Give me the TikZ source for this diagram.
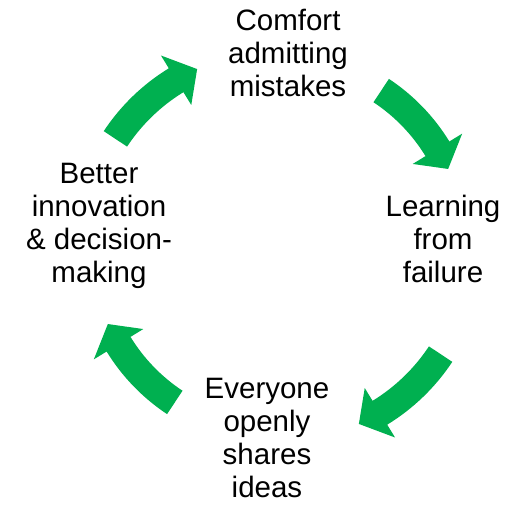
\documentclass[tikz,border=0pt]{standalone}
\usepackage{fontspec}
\setmainfont{Liberation Sans}
\definecolor{cyclegreen}{RGB}{0,176,80}
\newcommand\cyclearrow[2]{% #1 tail angle, #2 radius
  \pgfmathsetmacro\ta{#1}%
  \pgfmathsetmacro\ba{#1-25}%
  \pgfmathsetmacro\pa{#1-32}%
  \pgfmathsetmacro\ro{#2+14}%
  \pgfmathsetmacro\ri{#2-14}%
  \pgfmathsetmacro\ho{#2+29}%
  \pgfmathsetmacro\hi{#2-29}%
  \fill[cyclegreen,shift={(C)}] (\ta:\ro) arc[start angle=\ta, end angle=\ba, radius=\ro]
    -- (\ba:\ho) -- (\pa:#2) -- (\ba:\hi) -- (\ba:\ri)
    arc[start angle=\ba, end angle=\ta, radius=\ri] -- cycle;
}
\tikzset{
  lbl/.style={align=center, font=\fontsize{29.5}{33}\selectfont, inner sep=0pt, anchor=base, text=black}
}
\begin{document}
\begin{tikzpicture}[x=1pt,y=1pt]
\useasboundingbox (0,0) rectangle (510,506);
\fill[white] (0,0) rectangle (510,506);
\coordinate (C) at (278,259.5);
\cyclearrow{146.5}{195}
\cyclearrow{56.5}{187}
\cyclearrow{-33.5}{195}
\cyclearrow{-123.5}{187}
\node[lbl] (top) at (288,409) {Comfort\\admitting\\mistakes};
\node[lbl] (right) at (443,223) {Learning\\from\\failure};
\node[lbl] (bottom) at (267,9) {Everyone\\openly\\shares\\ideas};
\node[lbl] (left) at (99,223.5) {Better\\innovation\\\& decision-\\making};
\end{tikzpicture}
\end{document}
